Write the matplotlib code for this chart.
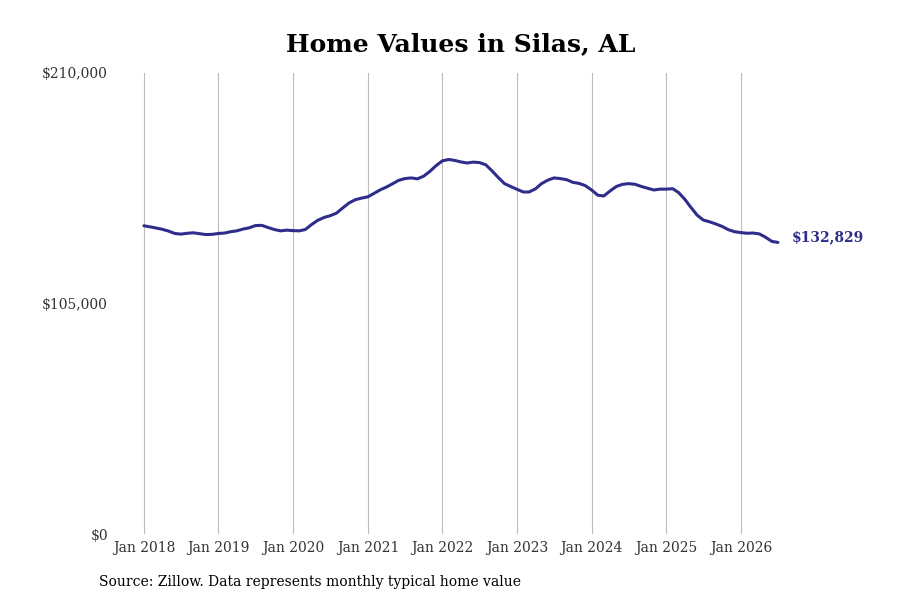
import matplotlib
matplotlib.use("Agg")
import matplotlib.pyplot as plt
import matplotlib.dates as mdates
import pandas as pd

# monthly typical home value, Jan 2018 .. Jul 2026
values = [
    140400, 139900, 139400, 138800, 138000, 136900, 136600, 137000, 137200, 136800, 136400, 136500,
    136900, 137100, 137700, 138100, 138900, 139500, 140500, 140600, 139600, 138700, 138100, 138400,
    138200, 138100, 138700, 141000, 142900, 144200, 145000, 146200, 148600, 150800, 152300, 153000,
    153600, 155200, 156700, 158000, 159500, 161100, 161900, 162200, 161800, 163000, 165200, 167800,
    170000, 170600, 170200, 169500, 169000, 169400, 169200, 168200, 165400, 162400, 159600, 158300,
    157000, 155800, 155800, 157200, 159600, 161200, 162200, 161900, 161400, 160200, 159700, 158700,
    156700, 154300, 154000, 156300, 158300, 159300, 159600, 159300, 158300, 157500, 156700, 157100,
    157100, 157300, 155600, 152500, 148800, 145200, 143000, 142200, 141200, 140100, 138600, 137700,
    137300, 137000, 137100, 136700, 135200, 133300, 132829,
]
dates = pd.date_range("2018-01-01", periods=len(values), freq="MS")
tick_years = list(range(2018, 2027))
y_ticks = [0, 105000, 210000]
y_labels = ["$0", "$105,000", "$210,000"]
title = "Home Values in Silas, AL"
source = "Source: Zillow. Data represents monthly typical home value"

color = "#2e2d8c"
plt.rcParams["font.family"] = ["DejaVu Serif"]

fig = plt.figure(figsize=(9, 6), dpi=100)
ax = fig.add_axes([120 / 900, 1 - 534 / 600, 680 / 900, 461 / 600])

ax.plot(dates, values, color=color, lw=2.2, solid_capstyle="round")
ax.annotate(f"${values[-1]:,}", (dates[-1], values[-1]), xytext=(10, 4),
            textcoords="offset points", color=color, fontsize=10,
            fontweight="bold", va="center", ha="left")

ticks = [pd.Timestamp(f"{y}-01-01") for y in tick_years]
ax.set_xticks(ticks)
ax.set_xticklabels([f"Jan {y}" for y in tick_years])
ax.set_xlim(ticks[0] - pd.Timedelta(days=117), ticks[-1] + pd.Timedelta(days=289))
ax.set_ylim(0, 210000)
ax.set_yticks(y_ticks)
ax.set_yticklabels(y_labels)

ax.grid(axis="x", color="#bcbcbc", lw=0.8)
ax.grid(axis="y", visible=False)
for s in ax.spines.values():
    s.set_visible(False)
ax.tick_params(length=0, labelsize=10, labelcolor="#333333")
ax.tick_params(axis="y", pad=8.7)
ax.tick_params(axis="x", pad=5)

fig.text(461 / 900, 1 - 44 / 600, title, ha="center", va="center",
         fontsize=18, fontweight="bold")
fig.text(99 / 900, 1 - 582 / 600, source, ha="left", va="center", fontsize=10)

fig.savefig("out.png", dpi=100)
